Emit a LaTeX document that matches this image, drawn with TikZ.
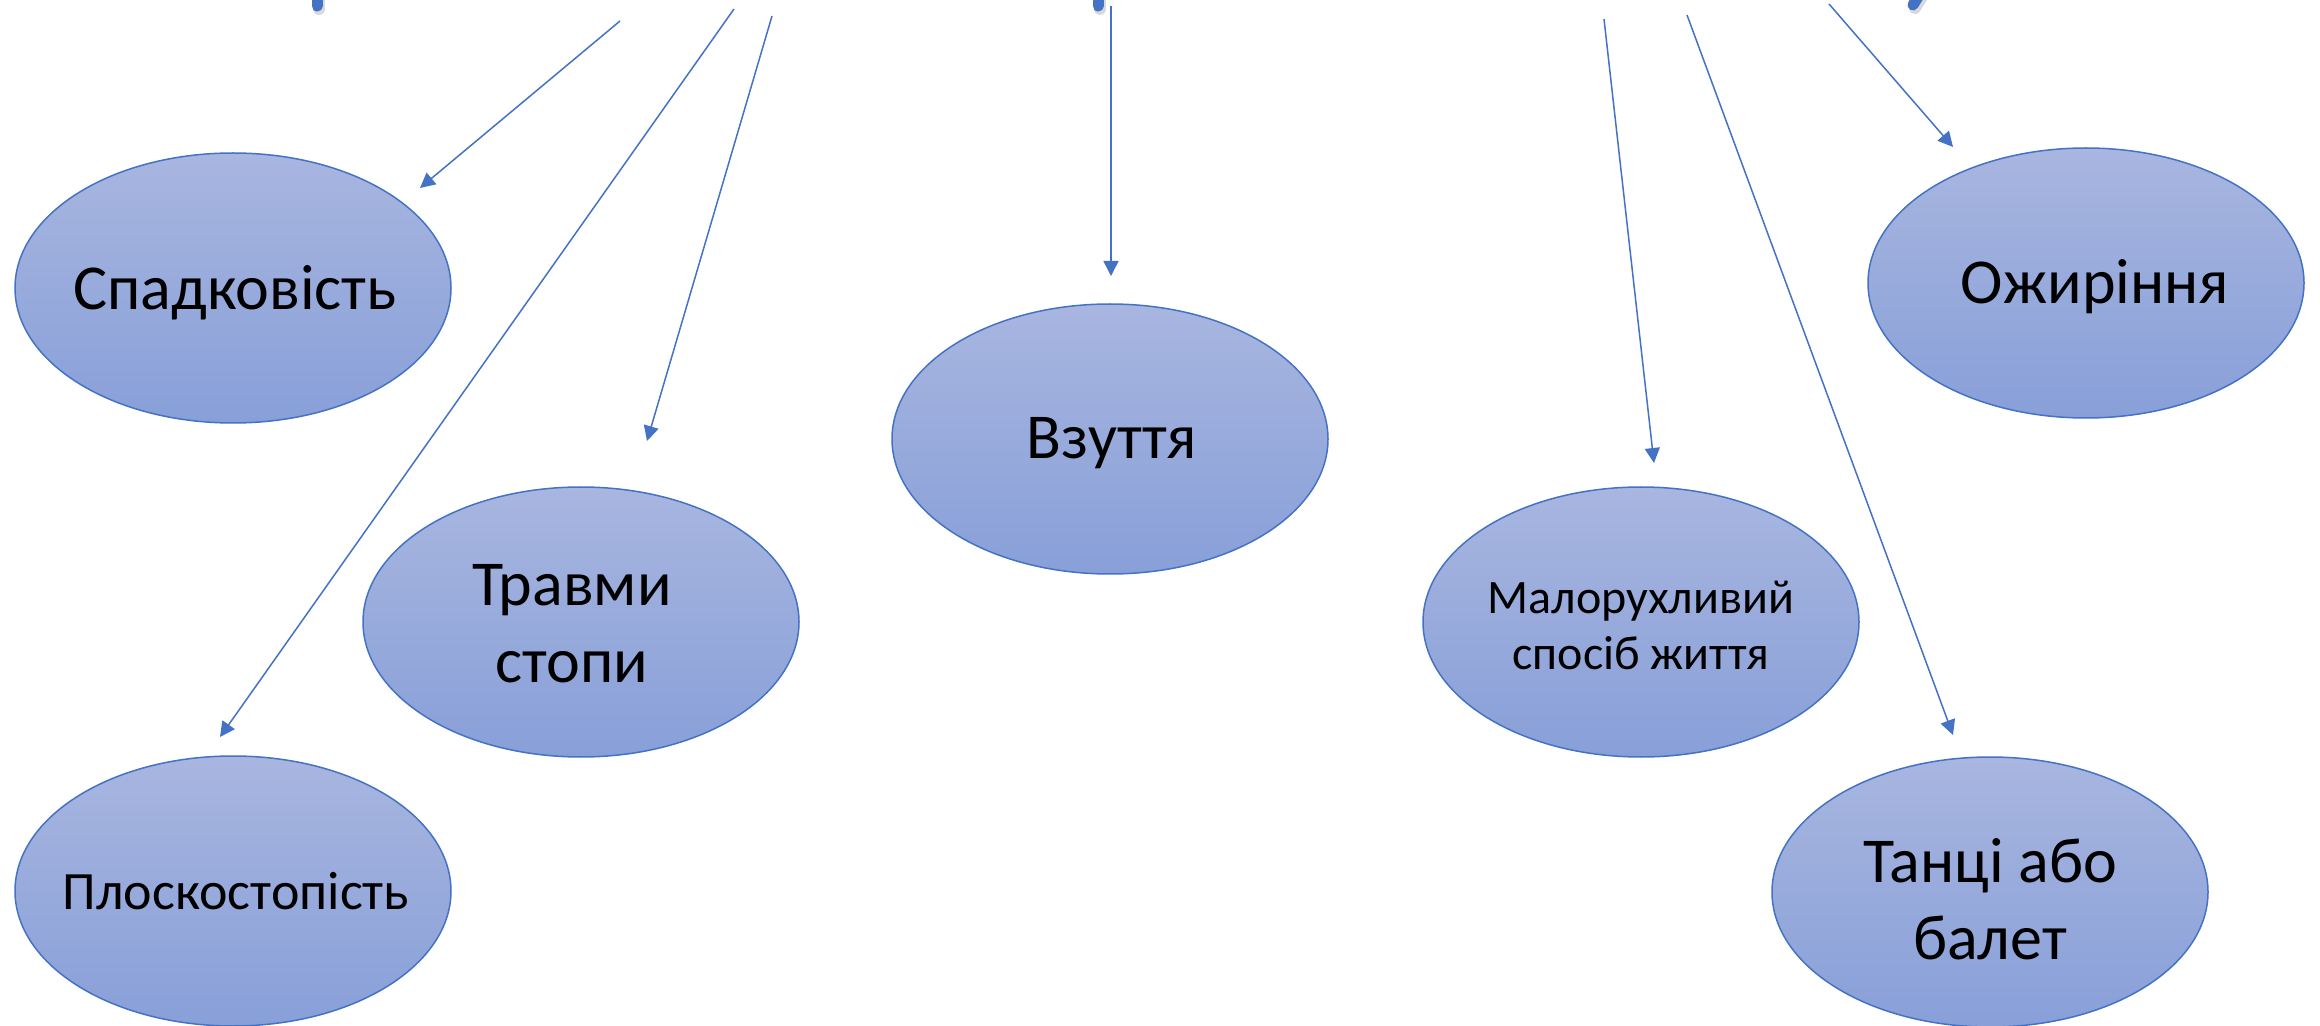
\documentclass[tikz,border=0pt]{standalone}
\usepackage{fontspec}
\setmainfont{Carlito}
\usetikzlibrary{shapes.geometric,arrows.meta}
\definecolor{accent}{HTML}{4472C4}
\definecolor{ovaltop}{HTML}{A8B6E0}
\definecolor{ovalbot}{HTML}{889FD8}
\begin{document}
\begin{tikzpicture}[x=0.5pt,y=-0.5pt,
  oval/.style={ellipse, draw=accent, line width=0.75pt, top color=ovaltop,
    bottom color=ovalbot, minimum width=218pt, minimum height=135pt, inner sep=0pt},
  bigtxt/.style={font=\fontsize{32}{38.5}\selectfont, align=center, inner sep=0pt},
  midtxt/.style={font=\fontsize{27}{32}\selectfont, align=center, inner sep=0pt},
  smalltxt/.style={font=\fontsize{24}{28}\selectfont, align=center, inner sep=0pt},
  link/.style={draw=accent, line width=0.75pt, -{Triangle[length=7.5pt,width=7.5pt]}},
  stub/.style={draw=accent, line width=5.5pt, line cap=round},
  stubshadow/.style={draw=black, opacity=0.15, line width=6pt, line cap=round}]
\clip (0,0) rectangle (2320,1026);
\fill[white] (0,0) rectangle (2320,1026);

% ovals
\node[oval] (heredity) at (233,288) {};
\node[oval] (injury)   at (581,622) {};
\node[oval] (flat)     at (233,891) {};
\node[oval] (shoes)    at (1110,439) {};
\node[oval] (idle)     at (1641,622) {};
\node[oval] (obesity)  at (2086,283) {};
\node[oval] (dance)    at (1990,892) {};

% captions
\node[bigtxt, anchor=base] (heredityT) at (235,310) {Спадковість};
\node[bigtxt] (injuryT) at (572,624) {Травми\\стопи};
\node[midtxt, anchor=base] (flatT) at (236,909) {Плоскостопість};
\node[bigtxt, anchor=base] (shoesT) at (1112,459) {Взуття};
\node[smalltxt] (idleT) at (1641,625) {Малорухливий\\спосіб життя};
\node[bigtxt, anchor=base] (obesityT) at (2095,304) {Ожиріння};
\node[bigtxt] (danceT) at (1990,899) {Танці або\\балет};

% connector ends entering from above
\coordinate (s1) at (620,21);   \coordinate (e1) at (420,188);
\coordinate (s2) at (734,9);    \coordinate (e2) at (220,737);
\coordinate (s3) at (772,16);   \coordinate (e3) at (647,441);
\coordinate (s4) at (1111,6);   \coordinate (e4) at (1111,276);
\coordinate (s5) at (1604,19);  \coordinate (e5) at (1654,463);
\coordinate (s6) at (1687,15);  \coordinate (e6) at (1953,735);
\coordinate (s7) at (1829,4);   \coordinate (e7) at (1953,147);

\draw[link] (s1) -- (e1);
\draw[link] (s2) -- (e2);
\draw[link] (s3) -- (e3);
\draw[link] (s4) -- (e4);
\draw[link] (s5) -- (e5);
\draw[link] (s6) -- (e6);
\draw[link] (s7) -- (e7);

% cut-off stubs at the top edge
\coordinate (u1) at (317,-14);  \coordinate (v1) at (317,6);
\coordinate (u2) at (1098,-14); \coordinate (v2) at (1098,6);
\coordinate (u3) at (1926,-16); \coordinate (v3) at (1913,5);
\foreach \a/\b in {u1/v1,u2/v2,u3/v3}{
  \draw[stubshadow] ([shift={(2,3)}]\a) -- ([shift={(2,3)}]\b);
  \draw[stub] (\a) -- (\b);
}
\end{tikzpicture}
\end{document}
